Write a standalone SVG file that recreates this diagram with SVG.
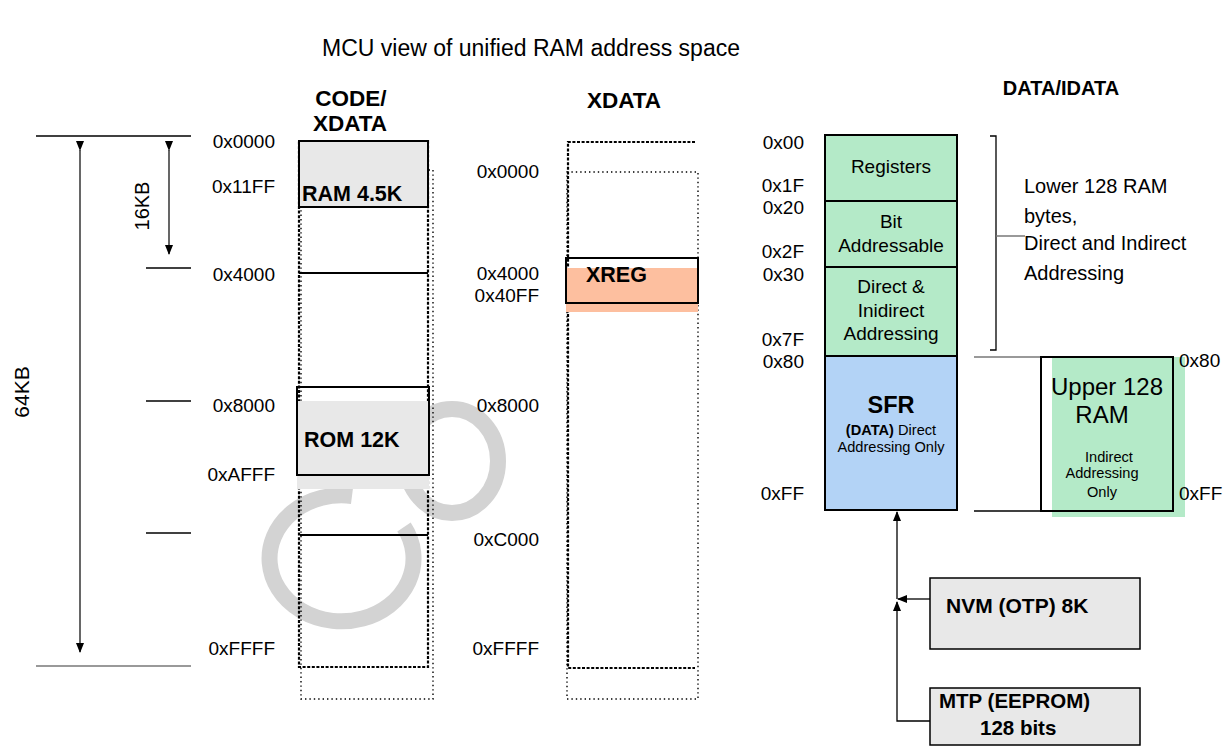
<svg xmlns="http://www.w3.org/2000/svg" width="1228" height="750" viewBox="0 0 1228 750">
<defs>
<style>
text{font-family:"Liberation Sans",Arial,sans-serif;fill:#000}
.a{font-size:19px}
.b{font-weight:bold}
.ln{stroke:#000;stroke-width:1.3;fill:none}
.gl{stroke:#777;stroke-width:1.5;fill:none}
.thick{stroke:#000;stroke-width:2.2;fill:none;stroke-dasharray:3 1.6}
.thin{stroke:#000;stroke-width:1.4;fill:none;stroke-dasharray:1.4 3}
.box{stroke:#000;stroke-width:2;}
.g{fill:#b4eac8}
.bl{fill:#b3d3f6}
.gr{fill:#e8e8e8}
</style>
<marker id="ah" markerWidth="10" markerHeight="10" refX="9" refY="5" orient="auto" markerUnits="userSpaceOnUse">
<path d="M0,1 L10,5 L0,9 Z" fill="#000"/>
</marker>
</defs>
<rect width="1228" height="750" fill="#fff"/>

<!-- watermark -->
<g id="watermark" fill="none" stroke="#d3d3d3" stroke-width="16">
<ellipse cx="452" cy="461" rx="46" ry="52"/>
<path d="M352 496 A72 63 0 1 0 404 527"/>
</g>

<!-- titles -->
<text x="531" y="56" font-size="23" text-anchor="middle">MCU view of unified RAM address space</text>
<text x="351" y="106" font-size="22.5" class="b" text-anchor="middle">CODE/</text>
<text x="350" y="131" font-size="22.5" class="b" text-anchor="middle">XDATA</text>
<text x="624" y="108" font-size="22.5" class="b" text-anchor="middle">XDATA</text>
<text x="1061" y="95" font-size="20" class="b" text-anchor="middle">DATA/IDATA</text>

<!-- dimension lines -->
<g id="dimensions">
<line class="ln" x1="36" y1="136" x2="191" y2="136"/>
<line class="gl" x1="36" y1="666" x2="191" y2="666"/>
<line class="ln" x1="146" y1="268" x2="191" y2="268"/>
<line class="ln" x1="146" y1="401" x2="191" y2="401"/>
<line class="ln" x1="146" y1="533" x2="191" y2="533"/>
<line class="ln" x1="80" y1="150" x2="80" y2="652" marker-start="url(#ah)" marker-end="url(#ah)" style="stroke-width:1.2"/>
<line class="ln" x1="169" y1="150" x2="169" y2="254" marker-start="url(#ah)" marker-end="url(#ah)" style="stroke-width:1.2"/>
<text x="0" y="0" font-size="21" text-anchor="middle" transform="translate(29,392) rotate(-90)">64KB</text>
<text x="0" y="0" font-size="20" text-anchor="middle" transform="translate(149,206) rotate(-90)">16KB</text>
</g>

<!-- CODE/XDATA column -->
<g id="code-col">
<rect class="thin" x="301" y="170" width="132" height="529"/>
<rect class="thick" x="299" y="141" width="129" height="526"/>
<line class="ln" x1="299" y1="273" x2="428" y2="273" style="stroke-width:2"/>
<line class="ln" x1="300" y1="535" x2="428" y2="535" style="stroke-width:2"/>
</g>
<g id="ram">
<rect class="box gr" x="299" y="141" width="129" height="66"/>
<text x="302" y="201" font-size="21.5" class="b">RAM 4.5K</text>
</g>
<g id="rom">
<rect class="gr" x="297" y="401" width="132" height="88"/>
<rect class="box" fill="none" x="297" y="387" width="132" height="88"/>
<text x="304" y="447" font-size="21.5" class="b">ROM 12K</text>
</g>
<g id="code-labels" class="a" text-anchor="end">
<text x="275" y="148">0x0000</text>
<text x="275" y="193">0x11FF</text>
<text x="275" y="281">0x4000</text>
<text x="275" y="412">0x8000</text>
<text x="275" y="481">0xAFFF</text>
<text x="275" y="655">0xFFFF</text>
</g>

<!-- XDATA column -->
<g id="xdata-col">
<rect class="thin" x="567" y="172" width="131" height="527"/>
<path class="thick" d="M695 142 H568 V668 H695"/>
</g>
<g id="xreg">
<rect x="566" y="268" width="132" height="44" fill="#fdbf9f"/>
<rect class="box" fill="none" x="566" y="258" width="132" height="45"/>
<text x="586" y="282" font-size="21.5" class="b">XREG</text>
</g>
<g id="xdata-labels" class="a" text-anchor="end">
<text x="539" y="178">0x0000</text>
<text x="539" y="280">0x4000</text>
<text x="539" y="302">0x40FF</text>
<text x="539" y="412">0x8000</text>
<text x="539" y="546">0xC000</text>
<text x="539" y="655">0xFFFF</text>
</g>

<!-- DATA/IDATA -->
<g id="registers">
<rect class="box g" x="825" y="135" width="132" height="66"/>
<text x="891" y="173" class="a" text-anchor="middle">Registers</text>
</g>
<g id="bit-addressable">
<rect class="box g" x="825" y="201" width="132" height="66"/>
<text x="891" y="228" class="a" text-anchor="middle">Bit</text>
<text x="891" y="252" class="a" text-anchor="middle">Addressable</text>
</g>
<g id="direct">
<rect class="box g" x="825" y="267" width="132" height="89"/>
<text x="891" y="293" class="a" text-anchor="middle">Direct &amp;</text>
<text x="891" y="317" class="a" text-anchor="middle">Inidirect</text>
<text x="891" y="340" class="a" text-anchor="middle">Addressing</text>
</g>
<g id="sfr">
<rect class="box bl" x="825" y="356" width="132" height="154"/>
<text x="891" y="413" font-size="23.5" class="b" text-anchor="middle">SFR</text>
<text x="891" y="435" font-size="14.6" text-anchor="middle"><tspan font-weight="bold">(DATA)</tspan> Direct</text>
<text x="891" y="452" font-size="14.6" text-anchor="middle">Addressing Only</text>
</g>
<g id="data-labels" class="a" text-anchor="end">
<text x="804" y="149">0x00</text>
<text x="804" y="192">0x1F</text>
<text x="804" y="214">0x20</text>
<text x="804" y="258">0x2F</text>
<text x="804" y="281">0x30</text>
<text x="804" y="346">0x7F</text>
<text x="804" y="368">0x80</text>
<text x="804" y="500">0xFF</text>
</g>

<!-- bracket -->
<g id="bracket">
<path class="ln" d="M990 136 H996 V350 H990"/>
<line class="gl" x1="996" y1="236" x2="1025" y2="236"/>
<text x="1024" y="193" font-size="20">Lower 128 RAM</text>
<text x="1024" y="223" font-size="20">bytes,</text>
<text x="1024" y="250" font-size="20">Direct and Indirect</text>
<text x="1024" y="280" font-size="20">Addressing</text>
</g>

<!-- Upper RAM -->
<g id="upper-ram">
<line class="gl" x1="974" y1="357" x2="1041" y2="357"/>
<line class="ln" x1="974" y1="511" x2="1041" y2="511" style="stroke-width:1.5"/>
<rect class="g" x="1052" y="357" width="133" height="160"/>
<rect class="box" fill="none" x="1041" y="357" width="132" height="154"/>
<text x="1107" y="395" font-size="24" text-anchor="middle">Upper 128</text>
<text x="1102" y="423" font-size="24" text-anchor="middle">RAM</text>
<text x="1109" y="462" font-size="14.6" text-anchor="middle">Indirect</text>
<text x="1102" y="478" font-size="14.6" text-anchor="middle">Addressing</text>
<text x="1102" y="497" font-size="14.6" text-anchor="middle">Only</text>
<text x="1179" y="367" class="a">0x80</text>
<text x="1179" y="500" class="a">0xFF</text>
</g>

<!-- NVM / MTP -->
<g id="nvm">
<rect class="gr" x="930" y="578" width="210" height="71" stroke="#000" stroke-width="1.5"/>
<text x="946" y="613" font-size="21" class="b">NVM (OTP) 8K</text>
</g>
<g id="mtp">
<rect class="gr" x="930" y="688" width="210" height="57" stroke="#000" stroke-width="1.5"/>
<text x="939" y="708" font-size="20.5" class="b">MTP (EEPROM)</text>
<text x="980" y="735" font-size="20.5" class="b">128 bits</text>
</g>

<g id="connectors" class="ln" style="stroke-width:1.3">
<polyline points="930,721 897,721 897,602" marker-end="url(#ah)"/>
<line x1="930" y1="599" x2="898" y2="599" marker-end="url(#ah)"/>
<line x1="897" y1="599" x2="897" y2="512" marker-end="url(#ah)"/>
</g>
</svg>
